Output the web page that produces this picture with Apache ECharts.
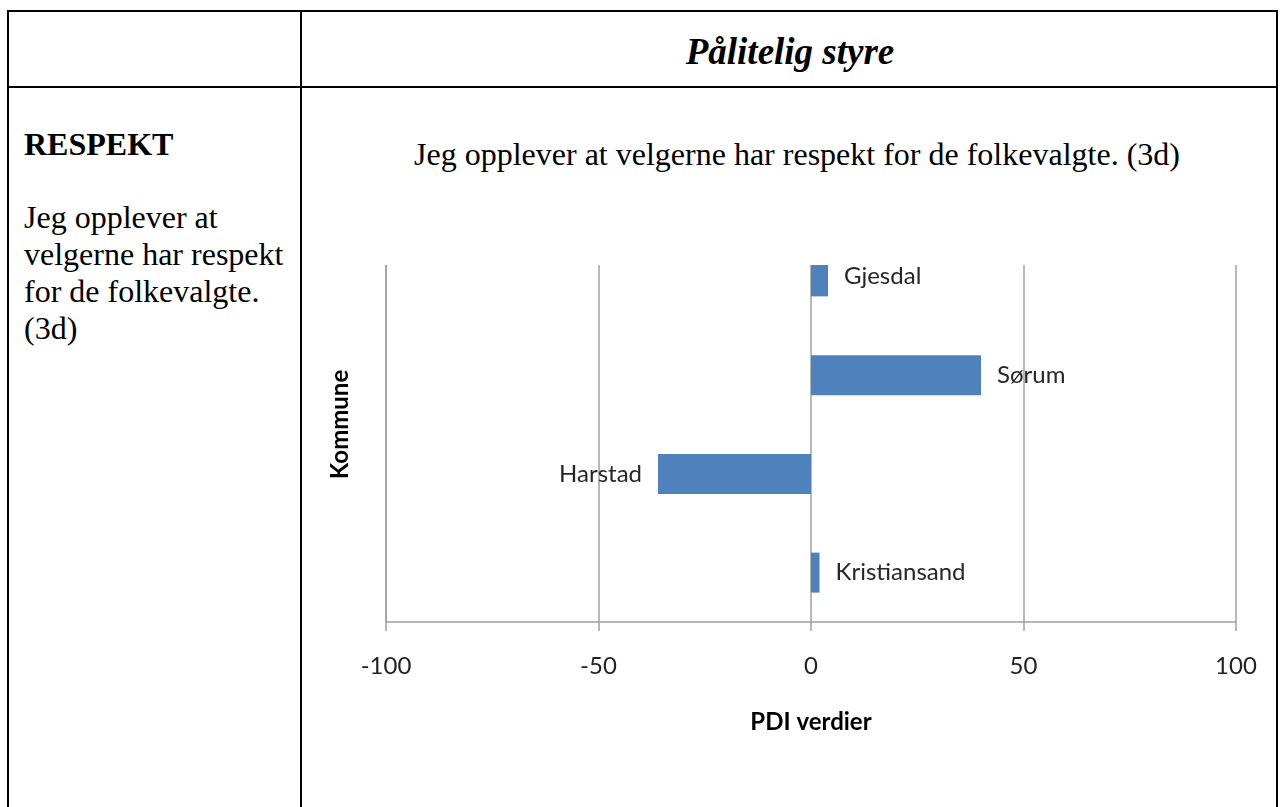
<!DOCTYPE html>
<html>
<head>
    <meta charset="utf-8">
    <title>Pålitelig styre - RESPEKT</title>
    <script src="https://cdn.jsdelivr.net/npm/echarts@6.0.0/dist/echarts.min.js"></script>
    <style>
        body {
            margin: 0;
            width: 1280px;
            height: 807px;
            overflow: hidden;
            background: #fff;
            position: relative;
            font-family: "Liberation Serif", "Times New Roman", serif;
            color: #000;
        }
        .line { position: absolute; background: #000; }
        .txt { position: absolute; white-space: nowrap; }
        /* diagrammet er avskåret øverst, som i originalen */
        #clip {
            position: absolute;
            left: 302px;
            top: 265px;
            width: 974px;
            height: 542px;
            overflow: hidden;
        }
        #chart {
            position: absolute;
            left: 0;
            top: -65px;
            width: 976px;
            height: 607px;
        }
    </style>
</head>
<body>
    <!-- tabellrammer -->
    <div class="line" style="left:7px; top:10px; width:1271px; height:2px"></div>
    <div class="line" style="left:7px; top:86px; width:1271px; height:2px"></div>
    <div class="line" style="left:7px; top:10px; width:2px; height:797px"></div>
    <div class="line" style="left:300px; top:10px; width:2px; height:797px"></div>
    <div class="line" style="left:1276px; top:10px; width:2px; height:797px"></div>

    <div class="txt" style="left:302px; width:976px; top:33px; text-align:center; font-size:37px; line-height:37px; font-weight:bold; font-style:italic">Pålitelig styre</div>

    <div class="txt" style="left:24px; top:126px; font-size:32px; line-height:37px; font-weight:bold">RESPEKT</div>
    <div class="txt" style="left:24px; top:199px; font-size:32px; line-height:37px">Jeg opplever at<br>velgerne har respekt<br>for de folkevalgte.<br>(3d)</div>

    <div class="txt" style="left:312px; width:970px; top:136px; text-align:center; font-size:32px; line-height:37px">Jeg opplever at velgerne har respekt for de folkevalgte. (3d)</div>

    <div id="clip"><div id="chart"></div></div>

    <script>
        // kommuner og PDI-verdier (lest av figuren)
        const kommuner = ['Gjesdal', 'Sørum', 'Harstad', 'Kristiansand'];
        const pdiVerdier = [4, 40, -36, 2];
        const xMin = -100;
        const xMax = 100;
        const xStep = 50;

        const grey = '#a0a0a0';
        const labelFont = 'Lato, "Noto Sans", sans-serif';

        let chart = echarts.init(document.getElementById('chart'));
        chart.setOption({
            animation: false,
            grid: { left: 84, right: 42, top: 27, bottom: 185 },
            xAxis: {
                type: 'value',
                min: xMin,
                max: xMax,
                interval: xStep,
                name: 'PDI verdier',
                nameLocation: 'middle',
                nameGap: 88,
                nameTextStyle: { fontFamily: labelFont, fontSize: 24, fontWeight: 'bold', color: '#000' },
                axisLine: { show: true, lineStyle: { color: grey, width: 1.5 } },
                axisTick: { show: true, length: 9, lineStyle: { color: grey, width: 1.5 } },
                axisLabel: { margin: 32, fontFamily: labelFont, fontSize: 24, color: '#222' },
                splitLine: { show: true, lineStyle: { color: grey, width: 1.5 } }
            },
            yAxis: {
                type: 'category',
                inverse: true,
                data: kommuner,
                name: 'Kommune',
                nameLocation: 'middle',
                nameGap: 34,
                nameTextStyle: { fontFamily: labelFont, fontSize: 24, fontWeight: 'bold', color: '#000' },
                axisLine: { show: true, onZero: false, lineStyle: { color: grey, width: 1.5 } },
                axisTick: { show: false },
                axisLabel: { show: false },
                splitLine: { show: false }
            },
            series: [{
                type: 'bar',
                barWidth: 40,
                itemStyle: { color: '#4F81BD' },
                label: {
                    show: true,
                    formatter: '{b}',
                    distance: 16,
                    fontFamily: labelFont,
                    fontSize: 24,
                    color: '#262626'
                },
                data: pdiVerdier.map(v => ({
                    value: v,
                    label: { position: v < 0 ? 'left' : 'right' }
                }))
            }]
        });
    </script>
</body>
</html>
